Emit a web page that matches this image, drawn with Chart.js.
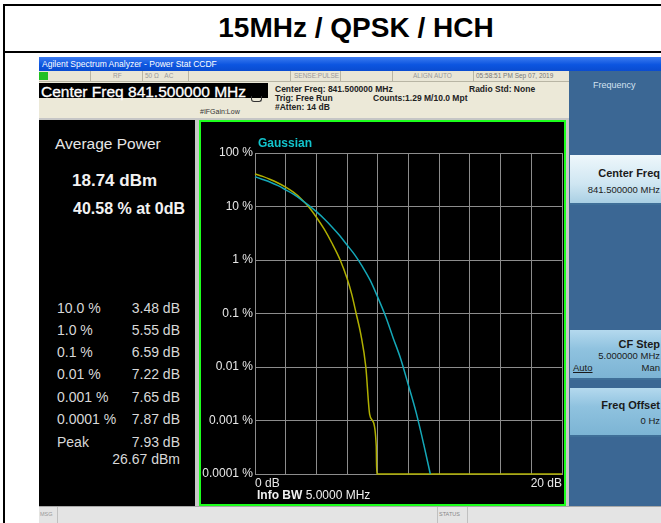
<!DOCTYPE html>
<html>
<head>
<meta charset="utf-8">
<script src="https://cdn.jsdelivr.net/npm/chart.js@4.4.1/dist/chart.umd.min.js"></script>
<style>
  body { margin: 0; width: 661px; height: 523px; overflow: hidden; background: #fff; position: relative;
         font-family: "Liberation Sans", Arial, sans-serif; }
  .a { position: absolute; }
  .t { position: absolute; white-space: nowrap; line-height: 1; }
  .stat { color: #d8d8d8; font-size: 14px; }
  .btn { position: absolute; left: 570px; width: 95px; border-bottom: 2px solid #3f6f98; }
  .btn .t { right: 5px; color: #1a1a1a; }
</style>
</head>
<body>

<!-- outer table lines -->
<div class="a" style="left:3px;top:4px;width:660px;height:2px;background:#000"></div>
<div class="a" style="left:3px;top:4px;width:2px;height:520px;background:#000"></div>
<div class="a" style="left:3px;top:51px;width:660px;height:2px;background:#000"></div>
<div class="t" style="left:0;width:712px;text-align:center;top:14px;font-weight:bold;font-size:28px;color:#000">15MHz / QPSK / HCH</div>

<!-- analyzer screenshot frame -->
<div class="a" style="left:39px;top:57px;width:630px;height:470px;background:#c6c6c6"></div>
<div class="a" style="left:39px;top:57px;width:630px;height:14px;background:linear-gradient(#3d7cf0,#0c55e0 55%,#0a4cd0)"></div>
<div class="t" style="left:42px;top:60px;font-size:8.5px;color:#fff">Agilent Spectrum Analyzer - Power Stat CCDF</div>

<!-- status row -->
<div class="a" style="left:39px;top:71px;width:530px;height:10px;background:#e9e6d6;border-bottom:1px solid #b8b5a4"></div>
<div class="a" style="left:39px;top:72px;width:9px;height:8px;background:#22c022"></div>
<div class="a" style="left:90px;top:71px;width:1px;height:10px;background:#b8b5a4"></div>
<div class="a" style="left:142px;top:71px;width:1px;height:10px;background:#b8b5a4"></div>
<div class="a" style="left:188px;top:71px;width:1px;height:10px;background:#b8b5a4"></div>
<div class="a" style="left:290px;top:71px;width:1px;height:10px;background:#b8b5a4"></div>
<div class="a" style="left:340px;top:71px;width:1px;height:10px;background:#b8b5a4"></div>
<div class="a" style="left:392px;top:71px;width:1px;height:10px;background:#b8b5a4"></div>
<div class="a" style="left:473px;top:71px;width:1px;height:10px;background:#b8b5a4"></div>
<div class="t" style="left:113px;top:73px;font-size:6.5px;color:#999">RF</div>
<div class="t" style="left:145px;top:73px;font-size:6.5px;color:#999">50 Ω &nbsp;&nbsp;AC</div>
<div class="t" style="left:294px;top:73px;font-size:6.5px;color:#999">SENSE:PULSE</div>
<div class="t" style="left:413px;top:73px;font-size:6.5px;color:#999">ALIGN AUTO</div>
<div class="t" style="left:476px;top:73px;font-size:6.5px;color:#777">05:58:51 PM Sep 07, 2019</div>

<!-- info row -->
<div class="a" style="left:39px;top:82px;width:530px;height:36px;background:#ece9d8"></div>
<div class="a" style="left:39px;top:83px;width:229px;height:15px;background:#000"></div>
<div class="t" style="left:41px;top:84px;font-size:15.5px;color:#fff;-webkit-text-stroke:0.3px #fff">Center Freq 841.500000 MHz</div>
<div class="t" style="left:275px;top:85px;font-size:8.5px;font-weight:bold;color:#222">Center Freq: 841.500000 MHz</div>
<div class="t" style="left:275px;top:94px;font-size:8.5px;font-weight:bold;color:#222">Trig: Free Run</div>
<div class="t" style="left:275px;top:103px;font-size:8.5px;font-weight:bold;color:#222">#Atten: 14 dB</div>
<div class="t" style="left:373px;top:94px;font-size:8.5px;font-weight:bold;color:#222">Counts:1.29 M/10.0 Mpt</div>
<div class="t" style="left:469px;top:85px;font-size:8.5px;font-weight:bold;color:#222">Radio Std: None</div>
<div class="t" style="left:200px;top:108px;font-size:7px;color:#333">#IFGain:Low</div>
<div class="a" style="left:251px;top:96px;width:9px;height:5px;border:1px solid #333;border-top:none;border-radius:0 0 3px 3px"></div>

<!-- left result panel -->
<div class="a" style="left:39px;top:120px;width:156px;height:386px;background:#000"></div>
<div class="t" style="left:55px;top:136px;font-size:15.5px;color:#e6e6e6">Average Power</div>
<div class="t" style="left:72px;top:172px;font-size:17px;font-weight:bold;color:#f2f2f2">18.74 dBm</div>
<div class="t" style="left:73px;top:201px;font-size:16px;font-weight:bold;color:#f2f2f2">40.58 % at 0dB</div>
<div class="t stat" style="left:57px;top:301px">10.0 %</div>
<div class="t stat" style="left:57px;top:323px">1.0 %</div>
<div class="t stat" style="left:57px;top:345px">0.1 %</div>
<div class="t stat" style="left:57px;top:367px">0.01 %</div>
<div class="t stat" style="left:57px;top:390px">0.001 %</div>
<div class="t stat" style="left:57px;top:412px">0.0001 %</div>
<div class="t stat" style="left:57px;top:435px">Peak</div>
<div class="t stat" style="right:481px;top:301px">3.48 dB</div>
<div class="t stat" style="right:481px;top:323px">5.55 dB</div>
<div class="t stat" style="right:481px;top:345px">6.59 dB</div>
<div class="t stat" style="right:481px;top:367px">7.22 dB</div>
<div class="t stat" style="right:481px;top:390px">7.65 dB</div>
<div class="t stat" style="right:481px;top:412px">7.87 dB</div>
<div class="t stat" style="right:481px;top:435px">7.93 dB</div>
<div class="t stat" style="right:481px;top:452px">26.67 dBm</div>

<!-- graph panel -->
<div class="a" style="left:199px;top:120px;width:367px;height:386px;box-sizing:border-box;border:2px solid #1cff1c;background:#000"></div>
<canvas id="ccdf" class="a" width="363" height="382" style="left:201px;top:122px"></canvas>

<!-- softkey panel -->
<div class="a" style="left:569px;top:71px;width:95px;height:435px;background:#3b6794"></div>
<div class="t" style="left:593px;top:81px;font-size:9px;color:#d4e2f0">Frequency</div>
<div class="btn" style="top:155px;height:48px;background:linear-gradient(#eef7fb,#cfe6f2 60%,#a9cfe3)">
  <div class="t" style="top:13px;font-size:11px;font-weight:bold">Center Freq</div>
  <div class="t" style="top:30px;font-size:9.5px">841.500000 MHz</div>
</div>
<div class="btn" style="top:330px;height:48px;background:linear-gradient(#b4d9ee,#8fc2df 40%,#7cb4d4)">
  <div class="t" style="top:9px;font-size:11px;font-weight:bold">CF Step</div>
  <div class="t" style="top:21px;font-size:9.5px">5.000000 MHz</div>
  <div class="t" style="top:33px;font-size:9.5px">Man</div>
  <div class="t" style="top:33px;left:3px;right:auto;font-size:9.5px;text-decoration:underline">Auto</div>
</div>
<div class="btn" style="top:388px;height:47px;background:linear-gradient(#b4d9ee,#8fc2df 40%,#7cb4d4)">
  <div class="t" style="top:12px;font-size:11px;font-weight:bold">Freq Offset</div>
  <div class="t" style="top:28px;font-size:9.5px">0 Hz</div>
</div>

<!-- bottom status bar -->
<div class="a" style="left:39px;top:506px;width:630px;height:20px;background:#e4e4e4;border-top:1px solid #a8a8a8"></div>
<div class="a" style="left:39px;top:507px;width:18px;height:16px;border-right:1px solid #c0c0c0"></div>
<div class="t" style="left:40px;top:512px;font-size:5.5px;color:#999">MSG</div>
<div class="a" style="left:437px;top:507px;width:29px;height:16px;border-left:1px solid #c0c0c0;border-right:1px solid #c0c0c0"></div>
<div class="t" style="left:439px;top:512px;font-size:5.5px;color:#888">STATUS</div>

<script>
// y axis: probability (%) on a log scale
const yTickValues = [100, 10, 1, 0.1, 0.01, 0.001, 0.0001];
const yTickLabels = ['100 %', '10 %', '1 %', '0.1 %', '0.01 %', '0.001 %', '0.0001 %'];
// x axis: dB above average power
const xEndLabels = ['0 dB', '20 dB'];

// measured CCDF (yellow trace)
const measuredDb  = [0, 0.5, 1, 1.5, 2, 2.5, 3, 3.48, 4, 4.5, 5, 5.55, 6, 6.3, 6.59, 6.9, 7.22, 7.47, 7.65, 7.9, 7.93, 20];
const measuredPct = [40.58, 36.5, 32, 27.5, 23, 18.5, 14, 10, 6.3, 3.8, 2.1, 1.0, 0.45, 0.23, 0.1, 0.04, 0.01, 0.0013, 0.001, 0.00033, 0.0001, 0.0001];

// Gaussian reference (cyan trace)
const gaussDb  = [0, 0.5, 1, 1.5, 2, 2.5, 3, 3.5, 4, 4.5, 5, 5.5, 6, 6.5, 7, 7.5, 8, 8.5, 9, 9.5, 10, 10.5, 11, 11.42];
const gaussPct = [36, 32, 28.4, 24.5, 20.5, 17, 13.5, 10.5, 8.0, 5.9, 4.2, 2.9, 1.9, 1.25, 0.75, 0.42, 0.2, 0.09, 0.035, 0.014, 0.0045, 0.0014, 0.00035, 0.0001];

const FONT = '"Liberation Sans", Arial, sans-serif';

const overlayText = {
    id: 'overlayText',
    afterDraw(chart) {
        const { ctx, chartArea } = chart;
        ctx.save();
        ctx.textBaseline = 'middle';
        ctx.font = 'bold 12px ' + FONT;
        ctx.fillStyle = '#12c4cc';
        ctx.fillText('Gaussian', chartArea.left + 3, chartArea.top - 9);
        ctx.fillStyle = '#f0f0f0';
        ctx.fillText('Info BW', chartArea.left + 2, chartArea.bottom + 22);
        const w = ctx.measureText('Info BW ').width;
        ctx.font = '12px ' + FONT;
        ctx.fillText('5.0000 MHz', chartArea.left + 2 + w, chartArea.bottom + 22);
        ctx.restore();
    }
};

new Chart(document.getElementById('ccdf'), {
    type: 'line',
    data: {
        datasets: [
            {
                label: 'Gaussian',
                data: gaussDb.map((x, i) => ({ x, y: gaussPct[i] })),
                borderColor: '#14a8b8',
                borderWidth: 1.5,
                pointRadius: 0,
                cubicInterpolationMode: 'monotone',
                clip: false
            },
            {
                label: 'Measured',
                data: measuredDb.map((x, i) => ({ x, y: measuredPct[i] })),
                borderColor: '#b0b000',
                borderWidth: 1.5,
                pointRadius: 0,
                cubicInterpolationMode: 'monotone',
                clip: false
            }
        ]
    },
    options: {
        responsive: false,
        animation: false,
        layout: { padding: { top: 31, right: 1, left: 0, bottom: 0 } },
        plugins: { legend: { display: false }, tooltip: { enabled: false } },
        scales: {
            x: {
                type: 'linear',
                min: 0,
                max: 20,
                afterFit: s => { s.height = 30; },
                grid: { color: '#8c8c8c', drawTicks: false },
                border: { color: '#8c8c8c' },
                ticks: {
                    stepSize: 2,
                    autoSkip: false,
                    maxRotation: 0,
                    align: 'inner',
                    padding: 2,
                    color: '#e8e8e8',
                    font: { family: FONT, size: 12 },
                    callback: v => v === 0 ? xEndLabels[0] : (v === 20 ? xEndLabels[1] : '')
                }
            },
            y: {
                type: 'logarithmic',
                min: 0.0001,
                max: 100,
                afterFit: s => { s.width = 54; },
                afterBuildTicks: s => { s.ticks = yTickValues.map(v => ({ value: v })); },
                grid: { color: '#8c8c8c', drawTicks: false },
                border: { color: '#8c8c8c' },
                ticks: {
                    padding: 2,
                    color: '#e8e8e8',
                    font: { family: FONT, size: 12 },
                    callback: v => yTickLabels[yTickValues.indexOf(v)]
                }
            }
        }
    },
    plugins: [overlayText]
});
</script>
</body>
</html>
